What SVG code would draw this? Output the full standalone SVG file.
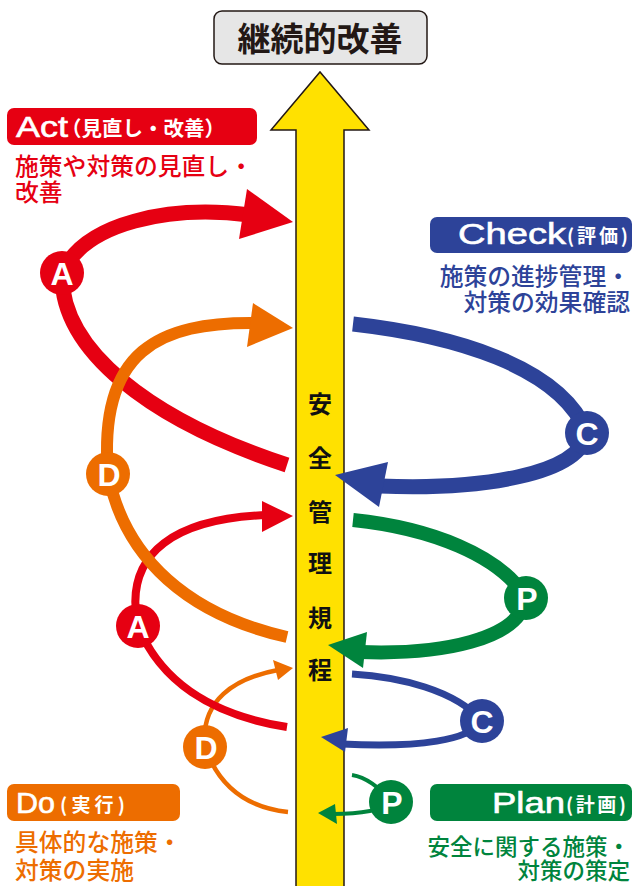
<svg xmlns="http://www.w3.org/2000/svg" width="633" height="886" viewBox="0 0 633 886">
<style>
.jp{font-family:"Noto Sans CJK JP","Noto Sans",sans-serif}
.lat{font-family:"Liberation Sans",Arial,sans-serif;font-weight:400;fill:#fff;stroke:#fff;stroke-width:0.6}
.hd{font-family:"Noto Sans CJK JP",sans-serif;font-weight:700;fill:#fff}
.sub{font-family:"Noto Sans CJK JP",sans-serif;font-weight:500}
.ltr{font-family:"Liberation Sans",Arial,sans-serif;font-weight:700;font-size:32px;fill:#fff;text-anchor:middle}
.red{stroke:#e60012}.org{stroke:#ed6d00}.blu{stroke:#2d4399}.grn{stroke:#00843d}
.ln{fill:none;stroke-linecap:butt}
</style>
<rect width="633" height="886" fill="#fff"/>
<g id="title">
<rect x="214" y="11" width="213" height="53" rx="8" fill="#e6e6e6" stroke="#231815" stroke-width="1.5"/>
<text x="320" y="51" class="jp" font-size="33" font-weight="700" fill="#231815" text-anchor="middle">継続的改善</text>
</g>
<g id="shaft">
<path d="M296 887 L296 130 L271 130 L320 72 L369 130 L344 130 L344 887" fill="#ffe100" stroke="#231815" stroke-width="1.5"/>
<g class="jp" font-size="24" font-weight="700" fill="#111" text-anchor="middle">
<text x="320" y="413">安</text>
<text x="320" y="467">全</text>
<text x="320" y="521">管</text>
<text x="320" y="572">理</text>
<text x="320" y="627">規</text>
<text x="320" y="679">程</text>
</g>
</g>
<g id="connectors">
<path class="ln org" stroke-width="4.5" d="M205 747 C200 700 235 678 278 670"/>
<polygon fill="#ed6d00" points="293,668 273,660 278,680"/>
<path class="ln org" stroke-width="4.5" d="M205 747 C220 790 250 808 288 812"/>
<path class="ln red" stroke-width="8" d="M138 626 C122 550 180 518 268 515"/>
<polygon fill="#e60012" points="293,516 262,501 262,532"/>
<path class="ln red" stroke-width="8" d="M138 626 C160 680 210 715 287 727"/>
<path class="ln red" stroke-width="15" d="M62 273 C85 222 170 205 250 215"/>
<polygon fill="#e60012" points="293,222 247,189 239,239"/>
<path class="ln red" stroke-width="15" d="M62 273 C60 350 150 420 287 465"/>
<path class="ln org" stroke-width="12" d="M108 474 C98 350 160 322 255 323"/>
<polygon fill="#ed6d00" points="293,328 253,303 247,347"/>
<path class="ln org" stroke-width="12" d="M108 474 C125 560 190 615 287 637"/>
<path class="ln blu" stroke-width="15" d="M353 324 C450 335 560 365 587 433"/>
<path class="ln blu" stroke-width="15" d="M587 433 C580 475 480 490 380 486"/>
<polygon fill="#2d4399" points="335,475 388,462 379,507"/>
<path class="ln grn" stroke-width="14" d="M353 520 C430 528 500 555 526 598"/>
<path class="ln grn" stroke-width="14" d="M526 598 C520 640 440 655 360 652"/>
<polygon fill="#00843d" points="328,645 367,632 363,668"/>
<path class="ln blu" stroke-width="7" d="M352 674 C400 677 455 690 482 721"/>
<path class="ln blu" stroke-width="7" d="M482 721 C470 740 420 748 342 744"/>
<polygon fill="#2d4399" points="321,737 348,728 345,752"/>
<path class="ln grn" stroke-width="4" d="M352 775 C365 777 380 787 391 802"/>
<path class="ln grn" stroke-width="4" d="M391 802 C385 810 360 814 333 814"/>
<polygon fill="#00843d" points="318,813 335,804 337,824"/>
</g>
<g id="nodeA1"><circle cx="62" cy="273" r="22" fill="#e60012"/><text x="62" y="285" class="ltr">A</text></g>
<g id="nodeD1"><circle cx="108" cy="474" r="22" fill="#ed6d00"/><text x="109" y="486" class="ltr">D</text></g>
<g id="nodeC1"><circle cx="587" cy="433" r="22" fill="#2d4399"/><text x="587" y="445" class="ltr">C</text></g>
<g id="nodeP1"><circle cx="526" cy="598" r="22" fill="#00843d"/><text x="527" y="610" class="ltr">P</text></g>
<g id="nodeA2"><circle cx="138" cy="626" r="22" fill="#e60012"/><text x="138" y="638" class="ltr">A</text></g>
<g id="nodeC2"><circle cx="482" cy="721" r="22" fill="#2d4399"/><text x="482" y="733" class="ltr">C</text></g>
<g id="nodeD2"><circle cx="205" cy="747" r="22" fill="#ed6d00"/><text x="206" y="759" class="ltr">D</text></g>
<g id="nodeP2"><circle cx="391" cy="802" r="22" fill="#00843d"/><text x="392" y="814" class="ltr">P</text></g>
<g id="act">
<rect x="7" y="108" width="250" height="37" rx="7" fill="#e60012"/>
<text x="16" y="137" class="lat" font-size="29" textLength="52" lengthAdjust="spacingAndGlyphs">Act</text>
<text x="61" y="136" class="hd" font-size="20.5">（見直し・改善）</text>
<text x="15" y="175" class="sub" font-size="23.8" fill="#e60012">施策や対策の見直し・</text>
<text x="15" y="201" class="sub" font-size="23.8" fill="#e60012">改善</text>
</g>
<g id="check">
<rect x="430" y="217" width="202" height="36" rx="7" fill="#2d4399"/>
<text x="458" y="244" class="lat" font-size="29" textLength="108" lengthAdjust="spacingAndGlyphs">Check</text>
<text x="567" y="243" class="hd" font-size="19" textLength="61" lengthAdjust="spacing">(評価)</text>
<text x="630" y="285" class="sub" font-size="23.8" fill="#2d4399" text-anchor="end">施策の進捗管理・</text>
<text x="630" y="311" class="sub" font-size="23.8" fill="#2d4399" text-anchor="end">対策の効果確認</text>
</g>
<g id="do">
<rect x="7" y="784" width="173" height="37" rx="7" fill="#ed6d00"/>
<text x="16" y="813" class="lat" font-size="29" textLength="39" lengthAdjust="spacingAndGlyphs">Do</text>
<text x="60" y="812" class="hd" font-size="19" textLength="65" lengthAdjust="spacing">(実行)</text>
<text x="15" y="851" class="sub" font-size="23.8" fill="#ed6d00">具体的な施策・</text>
<text x="15" y="879" class="sub" font-size="23.8" fill="#ed6d00">対策の実施</text>
</g>
<g id="plan">
<rect x="430" y="784" width="202" height="37" rx="7" fill="#00843d"/>
<text x="492" y="813" class="lat" font-size="29" textLength="73" lengthAdjust="spacingAndGlyphs">Plan</text>
<text x="566" y="812" class="hd" font-size="19" textLength="60" lengthAdjust="spacing">(計画)</text>
<text x="630" y="855" class="sub" font-size="22.5" fill="#00843d" text-anchor="end">安全に関する施策・</text>
<text x="630" y="879" class="sub" font-size="22.5" fill="#00843d" text-anchor="end">対策の策定</text>
</g>
</svg>
